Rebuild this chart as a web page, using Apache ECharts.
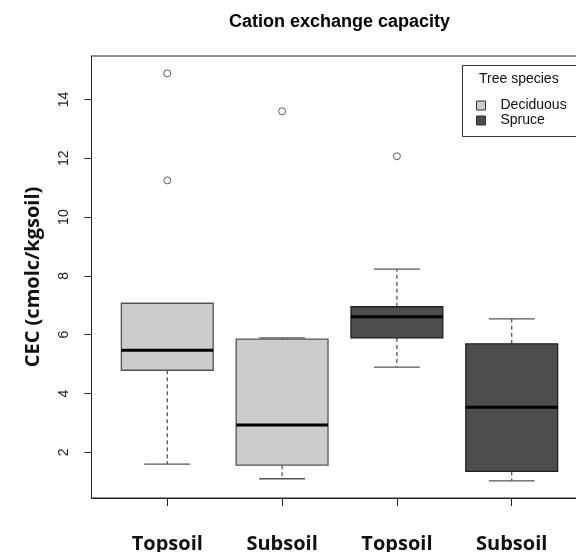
<!DOCTYPE html>
<html>
<head>
<meta charset="utf-8">
<script src="https://cdn.jsdelivr.net/npm/echarts@6/dist/echarts.min.js"></script>
<style>html,body{margin:0;padding:0;background:#fff;}#chart{width:576px;height:552px;}</style>
</head>
<body>
<div id="chart"></div>
<script>
// ---- data ----
const categories = ['Topsoil', 'Subsoil', 'Topsoil', 'Subsoil'];
const species = ['Deciduous', 'Deciduous', 'Spruce', 'Spruce'];
const lowerWhisker = [1.60, 1.10, 4.90, 1.03];
const q1 = [4.79, 1.56, 5.89, 1.35];
const median = [5.47, 2.93, 6.61, 3.53];
const q3 = [7.07, 5.85, 6.95, 5.69];
const upperWhisker = [7.07, 5.89, 8.23, 6.54];
const outlierGroup = [1, 1, 2, 3];
const outlierValue = [14.89, 11.25, 13.60, 12.07];
const yTicks = [2, 4, 6, 8, 10, 12, 14];
const speciesNames = ['Deciduous', 'Spruce'];

const fills = { Deciduous: '#cccccc', Spruce: '#4d4d4d' };
const borders = { Deciduous: '#555555', Spruce: '#222222' };

function boxData(name) {
  const out = [];
  for (let i = 0; i < categories.length; i++) {
    if (species[i] === name) {
      out.push([i + 1, lowerWhisker[i], q1[i], median[i], q3[i], upperWhisker[i]]);
    }
  }
  return out;
}

function makeRender(name) {
  return function (params, api) {
    const x = api.value(0);
    const lw = api.value(1), a = api.value(2), m = api.value(3), b = api.value(4), uw = api.value(5);
    const cx = api.coord([x, m])[0];
    const yl = api.coord([x, lw])[1];
    const ya = api.coord([x, a])[1];
    const ym = api.coord([x, m])[1];
    const yb = api.coord([x, b])[1];
    const yu = api.coord([x, uw])[1];
    const bw = api.size([0.8, 0])[0];
    const cw = bw / 2;
    const wStyle = { stroke: '#555', lineWidth: 1.3, lineDash: [4, 3] };
    const cStyle = { stroke: '#555', lineWidth: 1.3 };
    const children = [];
    if (uw > b) {
      children.push({ type: 'line', shape: { x1: cx, y1: yb, x2: cx, y2: yu }, style: wStyle });
      children.push({ type: 'line', shape: { x1: cx - cw / 2, y1: yu, x2: cx + cw / 2, y2: yu }, style: cStyle });
    }
    if (lw < a) {
      children.push({ type: 'line', shape: { x1: cx, y1: ya, x2: cx, y2: yl }, style: wStyle });
      children.push({ type: 'line', shape: { x1: cx - cw / 2, y1: yl, x2: cx + cw / 2, y2: yl }, style: cStyle });
    }
    children.push({ type: 'rect', shape: { x: cx - bw / 2, y: yb, width: bw, height: ya - yb },
      style: { fill: fills[name], stroke: borders[name], lineWidth: 1.3 } });
    children.push({ type: 'line', shape: { x1: cx - bw / 2, y1: ym, x2: cx + bw / 2, y2: ym },
      style: { stroke: '#000', lineWidth: 3 } });
    return { type: 'group', children: children };
  };
}

const outlierData = outlierGroup.map((g, i) => [g, outlierValue[i]]);

const chart = echarts.init(document.getElementById('chart'), null, { renderer: 'canvas' });
chart.setOption({
  animation: false,
  backgroundColor: '#fff',
  title: {
    text: 'Cation exchange capacity',
    left: 339.5, top: 13, padding: 0, textAlign: 'center',
    textStyle: { fontFamily: 'Liberation Sans', fontWeight: 'bold', fontSize: 18, color: '#000' }
  },
  grid: { left: 91.5, width: 496, top: 56, height: 442, show: true, borderColor: '#222', borderWidth: 1,
    containLabel: false, outerBoundsMode: 'none' },
  xAxis: {
    type: 'value', min: 0.34, max: 4.66,
    axisLine: { show: true, onZero: false, lineStyle: { color: '#222', width: 1 } },
    axisTick: { show: true, length: 8, customValues: [1, 2, 3, 4], lineStyle: { color: '#222' } },
    axisLabel: {
      customValues: [1, 2, 3, 4], margin: 36,
      formatter: v => categories[Math.round(v) - 1],
      fontFamily: 'Open Sans', fontWeight: 'bold', fontSize: 20, color: '#111'
    },
    splitLine: { show: false }
  },
  yAxis: {
    type: 'value', min: 0.445, max: 15.48,
    name: 'CEC (cmolc/kgsoil)', nameLocation: 'middle', nameRotate: 90, nameGap: 48,
    nameTextStyle: { fontFamily: 'Open Sans', fontWeight: 'bold', fontSize: 20, color: '#111' },
    axisLine: { show: true, lineStyle: { color: '#222', width: 1 } },
    axisTick: { show: true, length: 7, customValues: yTicks, lineStyle: { color: '#222' } },
    axisLabel: { customValues: yTicks, rotate: 90, margin: 20, fontFamily: 'Liberation Sans', fontSize: 14, color: '#222' },
    splitLine: { show: false }
  },
  legend: {
    orient: 'vertical', left: 476, top: 98, padding: 0, itemGap: 0,
    itemWidth: 9, itemHeight: 9, icon: 'rect',
    itemStyle: { borderColor: '#333', borderWidth: 1 },
    textStyle: { fontFamily: 'Liberation Sans', fontSize: 14, color: '#111', lineHeight: 15, padding: [0, 0, 0, 10] },
    data: speciesNames
  },
  graphic: [
    { type: 'rect', left: 462, top: 65, shape: { width: 140, height: 71 }, style: { fill: '#fff', stroke: '#333', lineWidth: 1 }, z: 0 },
    { type: 'text', left: 479, top: 72, style: { text: 'Tree species', fontFamily: 'Liberation Sans', fontSize: 14, fill: '#111' }, z: 1 }
  ],
  series: [
    { type: 'custom', name: speciesNames[0], renderItem: makeRender(speciesNames[0]), data: boxData(speciesNames[0]),
      itemStyle: { color: fills.Deciduous }, encode: { x: 0, y: [1, 2, 3, 4, 5] } },
    { type: 'custom', name: speciesNames[1], renderItem: makeRender(speciesNames[1]), data: boxData(speciesNames[1]),
      itemStyle: { color: fills.Spruce }, encode: { x: 0, y: [1, 2, 3, 4, 5] } },
    { type: 'scatter', name: 'outliers', data: outlierData, symbol: 'circle', symbolSize: 7,
      itemStyle: { color: '#fff', borderColor: '#333', borderWidth: 1 } }
  ]
});
</script>
</body>
</html>
